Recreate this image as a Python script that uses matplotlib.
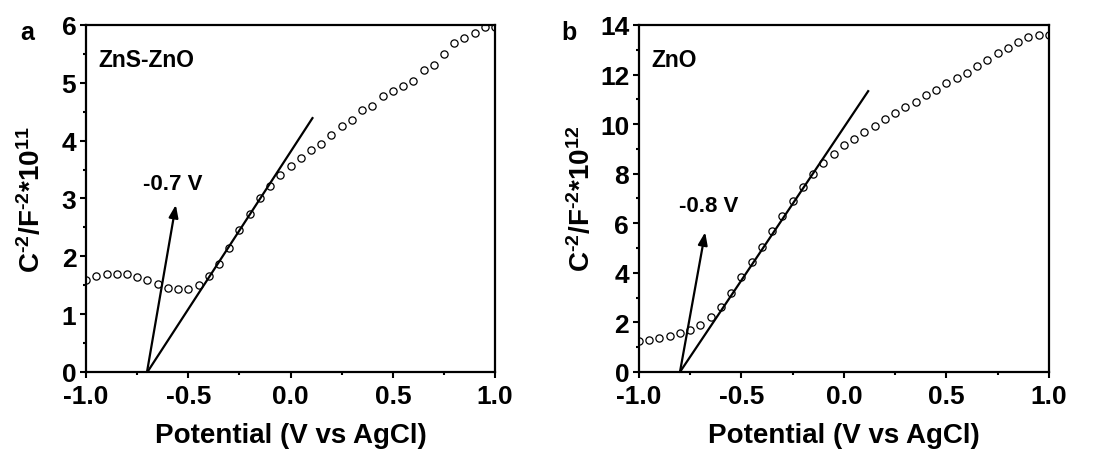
import matplotlib
matplotlib.use("Agg")
from matplotlib import pyplot as plt
from matplotlib.ticker import MultipleLocator

plt.rcParams['font.family'] = ['Liberation Sans', 'DejaVu Sans']
plt.rcParams['font.weight'] = 'bold'
plt.rcParams['axes.unicode_minus'] = False
plt.rcParams['mathtext.fontset'] = 'custom'
plt.rcParams['mathtext.rm'] = 'Liberation Sans:bold'
plt.rcParams['mathtext.default'] = 'rm'

# potential sweep, -1.0 V to 1.0 V in 0.05 V steps
potencial = [-1.0, -0.95, -0.9, -0.85, -0.8, -0.75, -0.7, -0.65, -0.6, -0.55,
             -0.5, -0.45, -0.4, -0.35, -0.3, -0.25, -0.2, -0.15, -0.1, -0.05,
             0.0, 0.05, 0.1, 0.15, 0.2, 0.25, 0.3, 0.35, 0.4, 0.45,
             0.5, 0.55, 0.6, 0.65, 0.7, 0.75, 0.8, 0.85, 0.9, 0.95, 1.0]

# Mott-Schottky, ZnS-ZnO (x1e11)
ms_zns_zno = [1.59, 1.66, 1.69, 1.70, 1.69, 1.65, 1.59, 1.53, 1.46, 1.43,
              1.44, 1.51, 1.66, 1.87, 2.15, 2.45, 2.73, 3.00, 3.21, 3.41,
              3.57, 3.70, 3.83, 3.94, 4.10, 4.26, 4.35, 4.53, 4.60, 4.78,
              4.86, 4.95, 5.04, 5.22, 5.31, 5.50, 5.69, 5.77, 5.87, 5.96, 5.97]

# Mott-Schottky, ZnO (x1e12)
ms_zno = [1.24, 1.29, 1.37, 1.45, 1.59, 1.69, 1.89, 2.20, 2.62, 3.20,
          3.82, 4.42, 5.04, 5.67, 6.29, 6.91, 7.46, 7.99, 8.42, 8.80,
          9.14, 9.39, 9.67, 9.94, 10.20, 10.44, 10.68, 10.91, 11.16, 11.39,
          11.64, 11.86, 12.08, 12.35, 12.58, 12.87, 13.09, 13.33, 13.50, 13.61, 13.61]

# linear fits: (x0, x1), (y0, y1)
fit_a = ([-0.70, 0.107], [0.0, 4.39])
fit_b = ([-0.80, 0.118], [0.0, 11.33])

paneles = [
    dict(letra="a", letra_x=27, nombre="ZnS-ZnO", datos=ms_zns_zno, fit=fit_a,
         ylim=6, ymaj=1, ymin=0.5, exp="11",
         flecha=((-0.702, 0.0), (-0.561, 2.89)),
         texto="-0.7 V", texto_pos=(-0.576, 3.26), ylab_x=-0.132,
         pos=[0.0783, 0.1748, 0.3722, 0.7677]),
    dict(letra="b", letra_x=569, nombre="ZnO", datos=ms_zno, fit=fit_b,
         ylim=14, ymaj=2, ymin=1, exp="12",
         flecha=((-0.80, 0.0), (-0.677, 5.64)),
         texto="-0.8 V", texto_pos=(-0.661, 6.72), ylab_x=-0.139,
         pos=[0.5814, 0.1748, 0.3731, 0.7677]),
]

fig = plt.figure(figsize=(10.99, 4.52), dpi=100)

for p in paneles:
    ax = fig.add_axes(p["pos"])
    ax.plot(potencial, p["datos"], linestyle="none", marker="o", markersize=5.2,
            markerfacecolor="white", markeredgecolor="black", markeredgewidth=0.9)
    ax.plot(p["fit"][0], p["fit"][1], color="black", linewidth=1.6)
    ax.annotate("", xy=p["flecha"][1], xytext=p["flecha"][0],
                arrowprops=dict(arrowstyle="-|>,head_length=0.75,head_width=0.28",
                                color="black", linewidth=1.6, shrinkA=0, shrinkB=0))
    ax.text(p["texto_pos"][0], p["texto_pos"][1], p["texto"], ha="center",
            va="center", fontsize=16, fontweight="bold")
    ax.text(0.03, 0.9, p["nombre"], transform=ax.transAxes, fontsize=16.5,
            fontweight="bold", ha="left", va="center")

    ax.set_xlim(-1.0, 1.0)
    ax.set_ylim(0, p["ylim"])
    ax.xaxis.set_major_locator(MultipleLocator(0.5))
    ax.xaxis.set_minor_locator(MultipleLocator(0.25))
    ax.yaxis.set_major_locator(MultipleLocator(p["ymaj"]))
    ax.yaxis.set_minor_locator(MultipleLocator(p["ymin"]))
    ax.tick_params(which="major", direction="out", length=4, width=1.5,
                   labelsize=19)
    ax.tick_params(which="minor", direction="out", length=2.5, width=1.5)
    ax.tick_params(axis="x", pad=5)
    ax.tick_params(axis="y", pad=3)
    for s in ax.spines.values():
        s.set_linewidth(1.6)

    ax.set_xlabel("Potential (V vs AgCl)", fontsize=20, fontweight="bold")
    ax.xaxis.set_label_coords(0.5, -0.145)
    ax.set_ylabel(r"C$^{\text{-}2}$/F$^{\text{-}2}$*10$^{" + p["exp"] + "}$",
                  fontsize=20, fontweight="bold", va="center")
    ax.yaxis.set_label_coords(p["ylab_x"], 0.5)
    fig.text(p["letra_x"] / 1099, 1 - 33 / 452, p["letra"], fontsize=18,
             fontweight="bold", ha="center", va="center")

fig.savefig("out.png", dpi=100)
